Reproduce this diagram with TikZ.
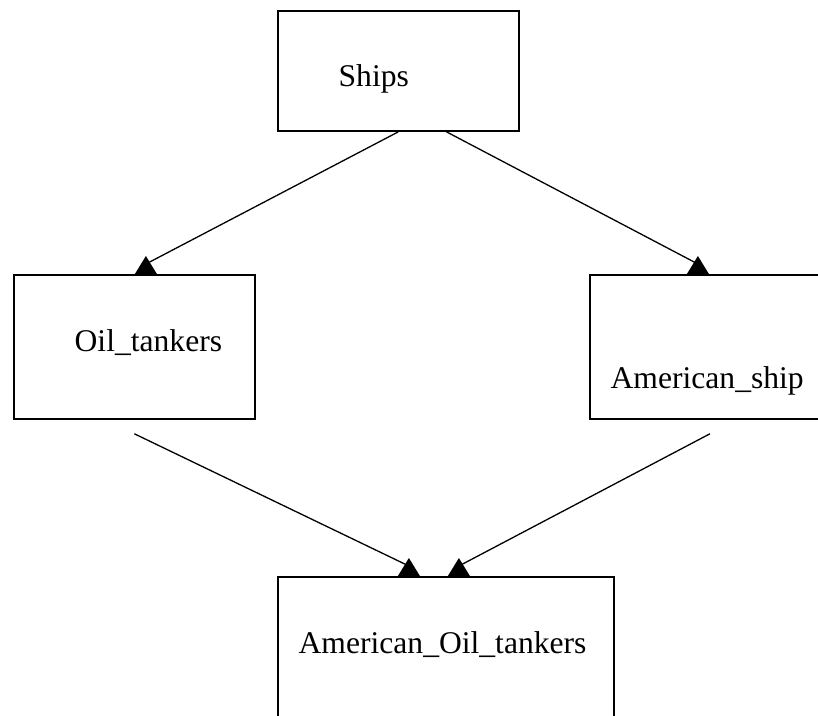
\documentclass[tikz,border=0pt]{standalone}
\usepackage{fontspec}
\setmainfont{Liberation Serif}
\newcommand{\uptip}[1]{\fill (#1) ++(-11,0) -- ++(22,0) -- ++(-11,-18) -- cycle;}
\begin{document}
\begin{tikzpicture}[x=0.5pt,y=-0.5pt,line width=0.65pt,
	box/.style={draw,rectangle,line width=0.9pt,inner sep=0pt,anchor=north west},
	lbl/.style={anchor=base west,inner sep=0pt,font=\fontsize{15.8}{19}\selectfont}]
	\useasboundingbox (0,0) rectangle (818,716);
	\node[box,minimum width=120.5pt,minimum height=60pt] (ships) at (277,10) {};
	\node[box,minimum width=120.5pt,minimum height=72pt] (oil) at (13,274) {};
	\node[box,minimum width=120pt,minimum height=72pt] (amship) at (589,274) {};
	\node[box,minimum width=168pt,minimum height=75pt] (aot) at (277,576) {};
	\node[lbl] (ships-t) at (338,87) {Ships};
	\node[lbl] (oil-t) at (74,351) {Oil\_tankers};
	\node[lbl] (amship-t) at (610,388) {American\_ship};
	\node[lbl] (aot-t) at (298,653) {American\_Oil\_tankers};
	\coordinate (oil-in) at ([xshift=5.75pt]oil.north);
	\coordinate (amship-in) at ([xshift=-6pt]amship.north);
	\coordinate (aot-in1) at ([xshift=-18.5pt]aot.north);
	\coordinate (aot-in2) at ([xshift=6.5pt]aot.north);
	\draw (ships.south) -- ([yshift=5pt]oil-in);
	\draw ([xshift=24pt]ships.south) -- ([yshift=5pt]amship-in);
	\draw ([yshift=-7pt]oil.south) -- ([yshift=5pt]aot-in1);
	\draw ([yshift=-7pt]amship.south) -- ([yshift=5pt]aot-in2);
	\uptip{oil-in}
	\uptip{amship-in}
	\uptip{aot-in1}
	\uptip{aot-in2}
\end{tikzpicture}
\end{document}
